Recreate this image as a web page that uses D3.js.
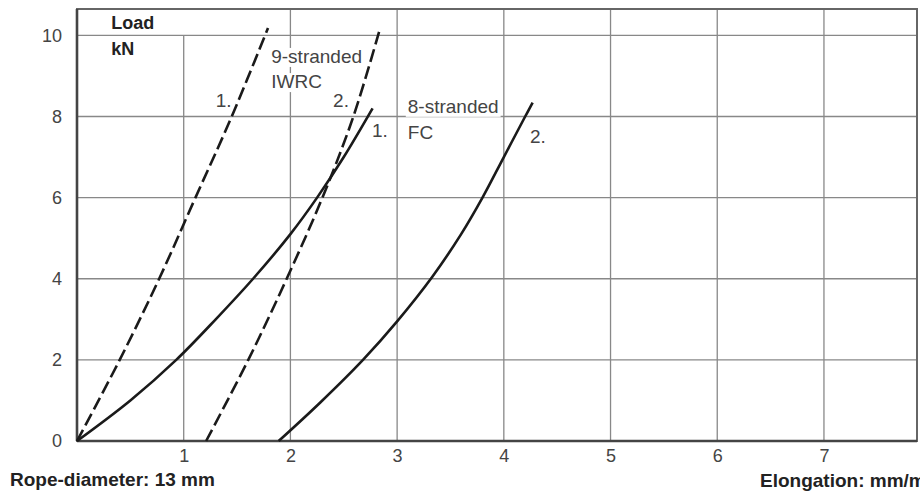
<!DOCTYPE html>
<html>
<head>
<meta charset="utf-8">
<script src="https://cdn.jsdelivr.net/npm/d3@7"></script>
<style>
  body { margin: 0; background: #fff; }
  svg { display: block; }
  text { font-family: "Liberation Sans", Arial, sans-serif; }
</style>
</head>
<body>
<svg id="chart" width="920" height="495"></svg>
<script>
// tick values
const xTicks = [1, 2, 3, 4, 5, 6, 7];
const yTicks = [0, 2, 4, 6, 8, 10];

// elongation (mm/m) vs load (kN)
// 9-stranded IWRC (dashed)
const iwrc1 = [[0, 0], [0.40, 2], [0.77, 4], [1.11, 6], [1.45, 8], [1.79, 10.18]];
const iwrc2 = [[1.21, 0], [1.605, 2], [1.965, 4], [2.30, 6], [2.59, 8], [2.84, 10.17]];
// 8-stranded FC (solid)
const fc1 = [[0, 0], [0.5, 1.0], [0.93, 2], [1.3, 3.0], [1.65, 4], [2.0, 5.1], [2.25, 6], [2.5, 7.0], [2.77, 8.2]];
const fc2 = [[1.89, 0], [2.28, 0.95], [2.68, 2], [3.0, 2.95], [3.33, 4.05], [3.6, 5.1], [3.8, 6], [4.0, 7.0], [4.2, 8.0], [4.27, 8.34]];

const series = [
  { values: iwrc1, dashed: true },
  { values: iwrc2, dashed: true },
  { values: fc1, dashed: false },
  { values: fc2, dashed: false }
];

const svg = d3.select('#chart');

const x = d3.scaleLinear().domain([0, 7.872]).range([77, 917]);
const y = d3.scaleLinear().domain([0, 10.65]).range([441, 9]);

// gridlines
const grid = svg.append('g').attr('class', 'grid')
  .attr('stroke', '#888').attr('stroke-width', 1.3);

grid.selectAll('line.v')
  .data(xTicks)
  .enter()
  .append('line')
  .attr('class', 'v')
  .attr('x1', d => x(d)).attr('x2', d => x(d))
  .attr('y1', y.range()[0]).attr('y2', d => d === 1 ? y(10) : y.range()[1]);

grid.selectAll('line.h')
  .data(yTicks.filter(d => d > 0))
  .enter()
  .append('line')
  .attr('class', 'h')
  .attr('x1', x.range()[0]).attr('x2', x.range()[1])
  .attr('y1', d => y(d)).attr('y2', d => y(d));

// frame
svg.append('rect')
  .attr('x', x.range()[0]).attr('y', y.range()[1])
  .attr('width', x.range()[1] - x.range()[0])
  .attr('height', y.range()[0] - y.range()[1])
  .attr('fill', 'none')
  .attr('stroke', '#666')
  .attr('stroke-width', 2);

// axes (labels only, lines drawn separately)
const xAxis = svg.append('g')
  .attr('transform', 'translate(0,' + y(0) + ')')
  .call(d3.axisBottom(x).tickValues(xTicks).tickSize(0).tickPadding(8).tickFormat(d3.format('d')));

const yAxis = svg.append('g')
  .attr('transform', 'translate(' + x(0) + ',0)')
  .call(d3.axisLeft(y).tickValues(yTicks).tickSize(0).tickPadding(15).tickFormat(d3.format('d')));

[xAxis, yAxis].forEach(ax => {
  ax.select('.domain').remove();
  ax.selectAll('text')
    .attr('font-family', '"Liberation Sans", Arial, sans-serif')
    .attr('font-size', 18)
    .attr('fill', '#444');
});

// heavier left and bottom axis lines
svg.append('line')
  .attr('x1', x(0)).attr('x2', x(0))
  .attr('y1', y.range()[0]).attr('y2', y.range()[1])
  .attr('stroke', '#444').attr('stroke-width', 2.6);
svg.append('line')
  .attr('x1', x.range()[0]).attr('x2', x.range()[1])
  .attr('y1', y(0)).attr('y2', y(0))
  .attr('stroke', '#444').attr('stroke-width', 2.6);

// annotation labels (positions in data units)
const notes = [
  { text: 'Load', x: 0.32, y: 10.16, bold: true, box: true },
  { text: 'kN', x: 0.32, y: 9.52, bold: true },
  { text: '9-stranded', x: 1.82, y: 9.32, box: true },
  { text: 'IWRC', x: 1.82, y: 8.70, box: true },
  { text: '1.', x: 1.30, y: 8.23 },
  { text: '2.', x: 2.40, y: 8.23 },
  { text: '1.', x: 2.765, y: 7.50 },
  { text: '8-stranded', x: 3.10, y: 8.09, box: true },
  { text: 'FC', x: 3.10, y: 7.45 },
  { text: '2.', x: 4.245, y: 7.35 }
];

const noteG = svg.append('g').attr('class', 'notes');
const noteText = noteG.selectAll('text')
  .data(notes)
  .enter()
  .append('text')
  .attr('x', d => x(d.x))
  .attr('y', d => y(d.y))
  .attr('font-size', d => d.bold ? 18 : 19)
  .attr('font-weight', d => d.bold ? 'bold' : 'normal')
  .attr('fill', d => d.bold ? '#222' : '#444')
  .text(d => d.text);

// white boxes behind some labels so the grid stops at the text
noteText.filter(d => d.box).each(function() {
  const b = this.getBBox();
  noteG.insert('rect', 'text')
    .attr('x', b.x - 2).attr('y', b.y + 2)
    .attr('width', b.width + 4).attr('height', b.height - 2)
    .attr('fill', '#fff');
});

// curves
const line = d3.line()
  .x(d => x(d[0]))
  .y(d => y(d[1]))
  .curve(d3.curveCatmullRom.alpha(0.5));

svg.append('g')
  .selectAll('path')
  .data(series)
  .enter()
  .append('path')
  .attr('d', d => line(d.values))
  .attr('fill', 'none')
  .attr('stroke', '#1a1a1a')
  .attr('stroke-width', 2.6)
  .attr('stroke-dasharray', d => d.dashed ? '13,5' : null);

// bottom captions
svg.append('text')
  .attr('x', 10).attr('y', 486)
  .attr('font-size', 19).attr('font-weight', 'bold').attr('fill', '#222')
  .text('Rope-diameter: 13 mm');

svg.append('text')
  .attr('x', 760).attr('y', 487)
  .attr('font-size', 19).attr('font-weight', 'bold').attr('fill', '#222')
  .text('Elongation: mm/m');
</script>
</body>
</html>
